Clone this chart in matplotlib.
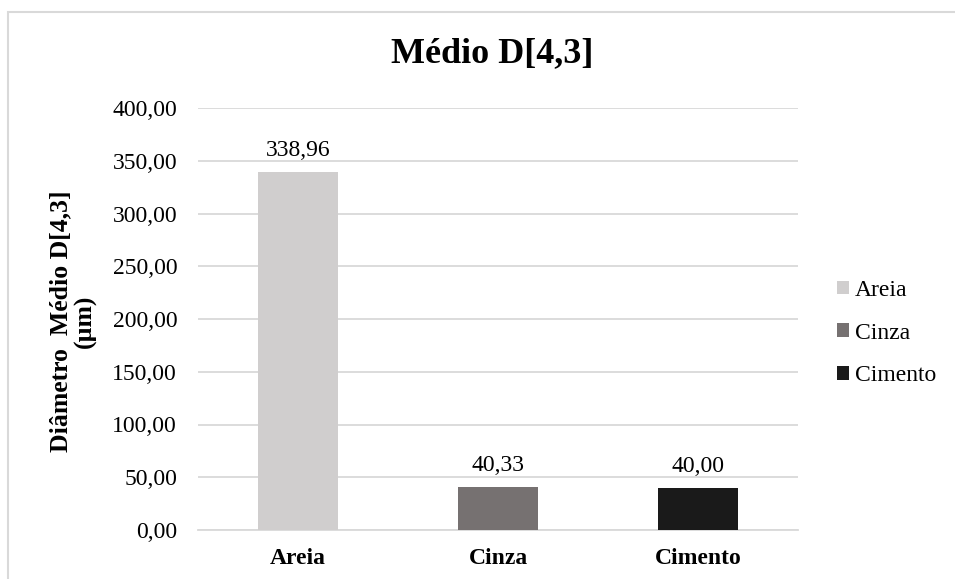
import matplotlib
matplotlib.use("Agg")
import matplotlib.pyplot as plt
from matplotlib.patches import Rectangle

categories = ["Areia", "Cinza", "Cimento"]
values = [338.96, 40.33, 40.00]
colors = ["#D0CECE", "#767171", "#1A1A1A"]
yticks = [0, 50, 100, 150, 200, 250, 300, 350, 400]

plt.rcParams['font.family'] = ['Liberation Serif', 'DejaVu Serif']

fig = plt.figure(figsize=(9.55, 5.79), dpi=100)
ax = fig.add_axes([198/955, 1-530/579, 600/955, 422/579])

# chart border (cut off at right and bottom, like the source)
fig.patches.append(Rectangle((8/955, -0.1), 1.2, 1 - 12/579 + 0.1, transform=fig.transFigure,
                             fill=False, edgecolor="#D9D9D9", linewidth=1.5))

x = range(len(categories))
bars = ax.bar(x, values, width=0.4, color=colors, label=categories, zorder=3)

for b, v in zip(bars, values):
    ax.annotate(f"{v:.2f}".replace(".", ","), (b.get_x() + b.get_width()/2, v),
                xytext=(0, 8), textcoords="offset points",
                ha="center", va="bottom", fontsize=17)

ax.set_xlim(-0.5, 2.5)
ax.set_ylim(0, 400)
ax.set_yticks(yticks)
ax.set_yticklabels([f"{t:.2f}".replace(".", ",") for t in yticks], fontsize=17)
ax.set_xticks(list(x))
ax.set_xticklabels(categories, fontsize=17, fontweight="bold")
ax.tick_params(length=0)
ax.tick_params(axis="y", pad=15)
ax.tick_params(axis="x", pad=13)
ax.grid(axis="y", color="#D9D9D9", linewidth=1.3, zorder=0)
for s in ["top", "right", "left"]:
    ax.spines[s].set_visible(False)
ax.spines["bottom"].set_color("#D9D9D9")
ax.spines["bottom"].set_linewidth(1.3)

fig.text(73/955, 1 - 321/579, "Diâmetro  Médio D[4,3]\n(µm)", rotation=90,
         ha="center", va="center", multialignment="center",
         fontsize=18.5, fontweight="bold", linespacing=1.1)
fig.text(492/955, 1 - 62/579, "Médio D[4,3]", ha="center", va="baseline",
         fontsize=26, fontweight="bold")

fig.legend(loc="center left", bbox_to_anchor=(837/955, 1 - 333/579), frameon=False,
           fontsize=17, borderpad=0, borderaxespad=0,
           handlelength=0.5, handleheight=0.5, handletextpad=0.25, labelspacing=0.92)

fig.savefig("out.png", dpi=100)
